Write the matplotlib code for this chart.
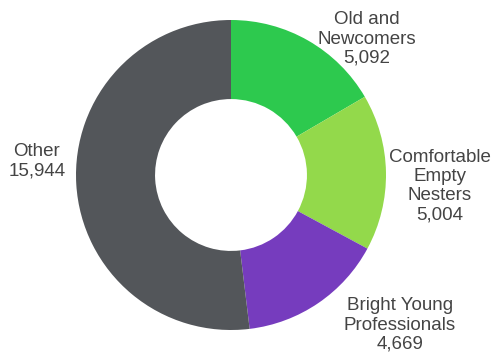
import numpy as np
import matplotlib.pyplot as plt

plt.rcParams['font.family'] = ['Liberation Sans', 'DejaVu Sans']

# 数据
labels = ["Old and\nNewcomers", "Comfortable\nEmpty\nNesters",
          "Bright Young\nProfessionals", "Other"]
values = [5092, 5004, 4669, 15944]
colors = ["#2DC94E", "#93D94B", "#763CBE", "#53565A"]

# 画布 497x360 像素
fig = plt.figure(figsize=(4.97, 3.6), dpi=100)
ax = fig.add_axes([0, 0, 1, 1])

cx, cy, r = 231, 185, 155
ax.pie(values, colors=colors, startangle=90, counterclock=False,
       center=(cx, cy), radius=r,
       wedgeprops=dict(width=r * 0.51, linewidth=0))

ax.set_xlim(0, 497)
ax.set_ylim(0, 360)
ax.set_aspect('equal')
ax.axis('off')

# 标签位置（像素）
label_pos = [(367, 321, 'center'), (440, 174, 'center'),
             (400, 35, 'center'), (37, 199, 'center')]
for lab, v, (x, y, ha) in zip(labels, values, label_pos):
    ax.text(x, y, "%s\n%s" % (lab, format(v, ',')), ha=ha, va='center',
            fontsize=13.5, color="#444444", linespacing=1.17)

plt.savefig("out.png", dpi=100)
